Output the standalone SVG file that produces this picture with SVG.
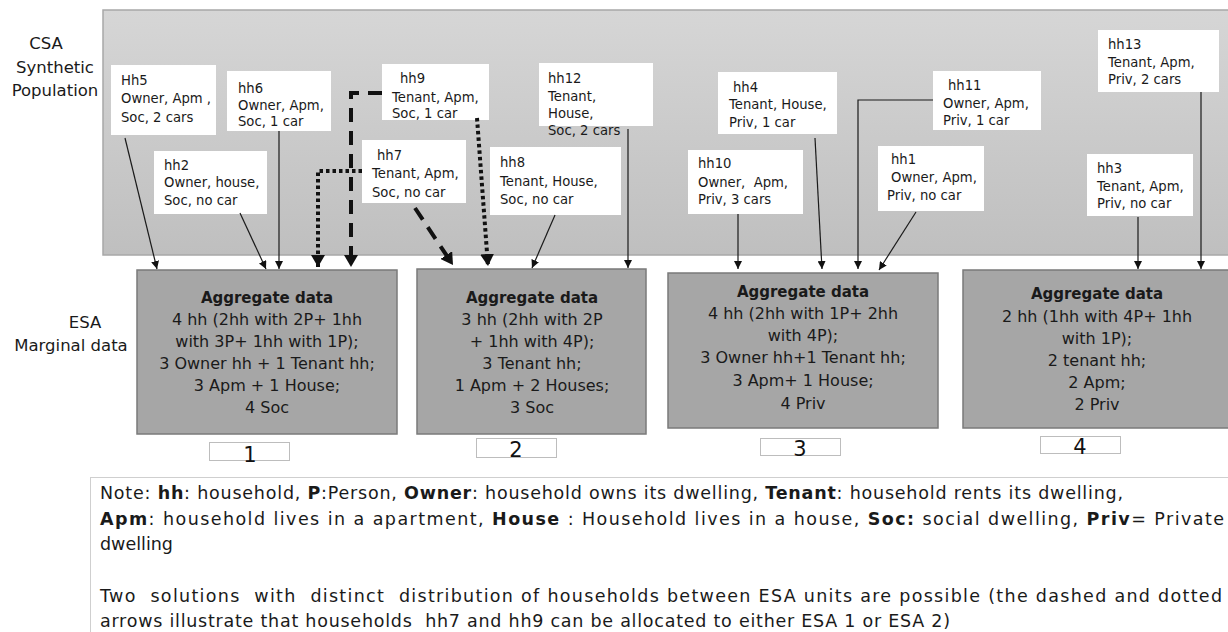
<svg xmlns="http://www.w3.org/2000/svg" width="1228" height="632" viewBox="0 0 1228 632">
<style>
.lbl{font-family:"DejaVu Sans",sans-serif;font-size:16.5px;fill:#1a1a1a;text-anchor:middle}
.hh rect{fill:#fff}
.hh text{font-family:"DejaVu Sans",sans-serif;font-size:13.2px;fill:#1a1a1a}
.agg rect{fill:#a6a6a6;stroke:#7a7a7a;stroke-width:1.5}
.agg text{font-family:"DejaVu Sans",sans-serif;font-size:16px;fill:#1a1a1a;text-anchor:middle}
.agg .t{font-weight:bold;font-size:15px}
.num rect{fill:#fff;stroke:#bdbdbd;stroke-width:1}
.num text{font-family:"DejaVu Sans",sans-serif;font-size:21px;fill:#111;text-anchor:middle}
.c{fill:none;stroke:#1a1a1a;stroke-width:1.2;marker-end:url(#ah)}
.dot{fill:none;stroke:#111;stroke-width:4;stroke-dasharray:3.5 3;marker-end:url(#ahb)}
.dash{fill:none;stroke:#111;stroke-width:4;stroke-dasharray:14 9;marker-end:url(#ahb)}
.note text{font-family:"DejaVu Sans",sans-serif;font-size:17.5px;fill:#1a1a1a}
.b{font-weight:bold}
</style>
<defs>
<linearGradient id="bg" x1="0" y1="0" x2="0" y2="1">
<stop offset="0" stop-color="#d6d6d6"/>
<stop offset="1" stop-color="#bfbfbf"/>
</linearGradient>
<marker id="ah" markerUnits="userSpaceOnUse" markerWidth="9" markerHeight="8" refX="8" refY="4" orient="auto">
<path d="M0,0 L8,4 L0,8 z" fill="#111"/>
</marker>
<marker id="ahb" markerUnits="userSpaceOnUse" markerWidth="14" markerHeight="14" refX="12" refY="7" orient="auto">
<path d="M0,0 L12,7 L0,14 z" fill="#111"/>
</marker>
</defs>
<rect width="1228" height="632" fill="#fff"/>
<g id="panel">
<rect x="103" y="10" width="1127" height="245" fill="url(#bg)" stroke="#a8a8a8" stroke-width="1.5"/>
</g>
<g id="side-labels">
<text class="lbl" x="46" y="49">CSA</text>
<text class="lbl" x="55" y="73">Synthetic</text>
<text class="lbl" x="55" y="96">Population</text>
<text class="lbl" x="85" y="328">ESA</text>
<text class="lbl" x="71" y="351">Marginal data</text>
</g>
<g id="hh5" class="hh"><rect x="111" y="65" width="105" height="70"/>
<text x="121" y="85">Hh5</text><text x="121" y="103">Owner, Apm ,</text><text x="121" y="122">Soc, 2 cars</text></g>
<g id="hh6" class="hh"><rect x="227" y="71" width="104" height="60"/>
<text x="238" y="93">hh6</text><text x="238" y="110">Owner, Apm,</text><text x="238" y="126">Soc, 1 car</text></g>
<g id="hh2" class="hh"><rect x="154" y="151" width="113" height="63"/>
<text x="164" y="170">hh2</text><text x="164" y="187">Owner, house,</text><text x="164" y="205">Soc, no car</text></g>
<g id="hh9" class="hh"><rect x="382" y="64" width="107" height="56"/>
<text x="400" y="83">hh9</text><text x="392" y="102">Tenant, Apm,</text><text x="392" y="118">Soc, 1 car</text></g>
<g id="hh7" class="hh"><rect x="362" y="140" width="104" height="63"/>
<text x="377" y="160">hh7</text><text x="372" y="178">Tenant, Apm,</text><text x="372" y="197">Soc, no car</text></g>
<g id="hh8" class="hh"><rect x="490" y="147" width="131" height="68"/>
<text x="500" y="167">hh8</text><text x="500" y="186">Tenant, House,</text><text x="500" y="204">Soc, no car</text></g>
<g id="hh12" class="hh"><rect x="539" y="63" width="114" height="63"/>
<text x="548" y="83">hh12</text><text x="548" y="101">Tenant,</text><text x="548" y="118">House,</text><text x="548" y="135">Soc, 2 cars</text></g>
<g id="hh4" class="hh"><rect x="718" y="72" width="119" height="62"/>
<text x="733" y="92">hh4</text><text x="729" y="109">Tenant, House,</text><text x="729" y="127">Priv, 1 car</text></g>
<g id="hh10" class="hh"><rect x="688" y="150" width="115" height="64"/>
<text x="698" y="168">hh10</text><text x="698" y="187" xml:space="preserve">Owner,  Apm,</text><text x="698" y="204">Priv, 3 cars</text></g>
<g id="hh11" class="hh"><rect x="933" y="71" width="108" height="59"/>
<text x="948" y="90">hh11</text><text x="943" y="108">Owner, Apm,</text><text x="943" y="125">Priv, 1 car</text></g>
<g id="hh1" class="hh"><rect x="878" y="146" width="106" height="65"/>
<text x="891" y="164">hh1</text><text x="891" y="182">Owner, Apm,</text><text x="887" y="200">Priv, no car</text></g>
<g id="hh3" class="hh"><rect x="1087" y="154" width="106" height="62"/>
<text x="1097" y="173">hh3</text><text x="1097" y="191">Tenant, Apm,</text><text x="1097" y="208">Priv, no car</text></g>
<g id="hh13" class="hh"><rect x="1098" y="30" width="121" height="62"/>
<text x="1108" y="49">hh13</text><text x="1108" y="67">Tenant, Apm,</text><text x="1108" y="84">Priv, 2 cars</text></g>
<g id="esa1" class="agg"><rect x="137" y="270" width="260" height="164"/>
<text class="t" x="267" y="303">Aggregate data</text><text x="267" y="325">4 hh (2hh with 2P+ 1hh</text><text x="267" y="347">with 3P+ 1hh with 1P);</text><text x="267" y="369">3 Owner hh + 1 Tenant hh;</text><text x="267" y="391">3 Apm + 1 House;</text><text x="267" y="413">4 Soc</text></g>
<g id="esa2" class="agg"><rect x="417" y="269" width="229" height="165"/>
<text class="t" x="532" y="303">Aggregate data</text><text x="532" y="325">3 hh (2hh with 2P</text><text x="532" y="347">+ 1hh with 4P);</text><text x="532" y="369">3 Tenant hh;</text><text x="532" y="391">1 Apm + 2 Houses;</text><text x="532" y="413">3 Soc</text></g>
<g id="esa3" class="agg"><rect x="668" y="273" width="270" height="155"/>
<text class="t" x="803" y="297">Aggregate data</text><text x="803" y="319">4 hh (2hh with 1P+ 2hh</text><text x="803" y="341">with 4P);</text><text x="803" y="363">3 Owner hh+1 Tenant hh;</text><text x="803" y="386">3 Apm+ 1 House;</text><text x="803" y="409">4 Priv</text></g>
<g id="esa4" class="agg"><rect x="963" y="270" width="267" height="158"/>
<text class="t" x="1097" y="299">Aggregate data</text><text x="1097" y="322">2 hh (1hh with 4P+ 1hh</text><text x="1097" y="344">with 1P);</text><text x="1097" y="366">2 tenant hh;</text><text x="1097" y="388">2 Apm;</text><text x="1097" y="410">2 Priv</text></g>
<g id="n1" class="num"><rect x="209.5" y="442.5" width="80" height="18"/><text x="250" y="462">1</text></g>
<g id="n2" class="num"><rect x="476.5" y="438.5" width="80" height="19"/><text x="516" y="457">2</text></g>
<g id="n3" class="num"><rect x="760.5" y="438.5" width="80" height="17"/><text x="800" y="456">3</text></g>
<g id="n4" class="num"><rect x="1040.5" y="436.5" width="80" height="17"/><text x="1080" y="454">4</text></g>
<g id="connectors">
<path class="c" d="M125,138 L157,269"/>
<path class="c" d="M240,213 L266,269"/>
<path class="c" d="M279,131 L279,269"/>
<path class="dot" d="M362,171 H318 V267"/>
<path class="dash" d="M382,93 H351 V267"/>
<path class="dash" d="M415,208 L453,265"/>
<path class="dot" d="M477,118 L488,266"/>
<path class="c" d="M555,215 L532,268"/>
<path class="c" d="M628,129 L628,268"/>
<path class="c" d="M738,214 L738,269"/>
<path class="c" d="M815,138 L822,269"/>
<path class="c" d="M933,100 H858 V269"/>
<path class="c" d="M916,212 L879,270"/>
<path class="c" d="M1138,217 L1138,269"/>
<path class="c" d="M1201,92 L1201,269"/>
</g>
<g id="note" class="note">
<rect x="90.5" y="477.5" width="1140" height="160" fill="#fff" stroke="#cfcfcf"/>
<text x="100" y="499" textLength="1023" lengthAdjust="spacing">Note: <tspan class="b">hh</tspan>: household, <tspan class="b">P</tspan>:Person, <tspan class="b">Owner</tspan>: household owns its dwelling, <tspan class="b">Tenant</tspan>: household rents its dwelling,</text>
<text x="100" y="525" textLength="1124" lengthAdjust="spacing"><tspan class="b">Apm</tspan>: household lives in a apartment, <tspan class="b">House</tspan> : Household lives in a house, <tspan class="b">Soc:</tspan> social dwelling, <tspan class="b">Priv</tspan>= Private</text>
<text x="100" y="550">dwelling</text>
<text x="100" y="602" textLength="1122" lengthAdjust="spacing" xml:space="preserve">Two  solutions  with  distinct  distribution of households between ESA units are possible (the dashed and dotted</text>
<text x="100" y="627" textLength="850" lengthAdjust="spacing" xml:space="preserve">arrows illustrate that households  hh7 and hh9 can be allocated to either ESA 1 or ESA 2)</text>
</g>
</svg>
